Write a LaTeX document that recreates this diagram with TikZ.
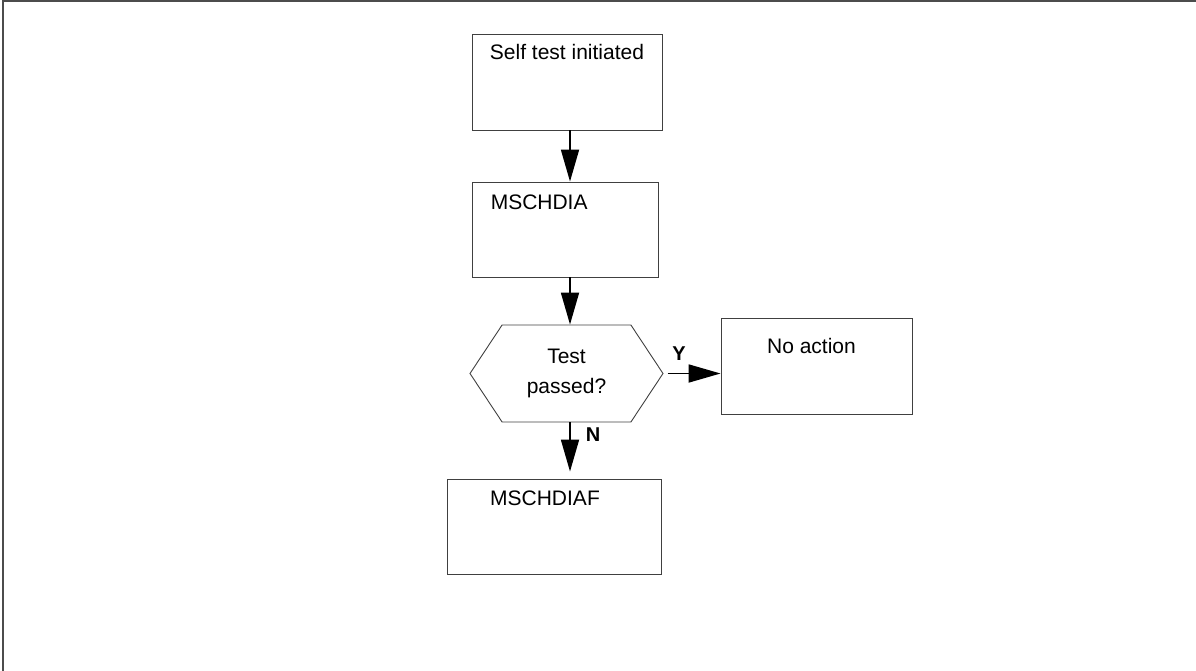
\documentclass[tikz,border=0pt]{standalone}
\usepackage{fontspec}
\setmainfont{Liberation Sans}
\usetikzlibrary{arrows.meta,shapes.symbols}

\begin{document}
\begin{tikzpicture}[x=1pt,y=-1pt,
    box/.style={draw=black!75,line width=0.9pt,rectangle,inner sep=0pt},
    txt/.style={inner sep=0pt,font=\fontsize{21}{30}\selectfont},
    yn/.style={inner sep=0pt,font=\fontsize{20}{22}\selectfont\bfseries},
    flow/.style={line width=1.8pt,-{Triangle[length=32pt,width=18pt]}}]
  \def\spine{570}
  \useasboundingbox (0,0) rectangle (1196,671);

  %%% frame
  \draw[black!70,line width=2pt] (3,671) -- (3,1.5) -- (1196,1.5);

  %%% steps
  \node[box,minimum width=190pt,minimum height=96pt,
    label={[txt,anchor=center,yshift=-18pt]north:Self test initiated}]
    (init) at (567,82) {};
  \node[box,minimum width=186pt,minimum height=95pt,
    label={[txt,anchor=west,xshift=19pt,yshift=-21pt]north west:MSCHDIA}]
    (dia) at (565,229.5) {};
  \node[draw=black!75,line width=0.9pt,signal,signal to=east and west,
    signal pointer angle=113,minimum width=193pt,minimum height=97pt,
    inner sep=0pt,txt,align=center]
    (test) at (566.5,373.5) {Test\\passed?};
  \node[box,minimum width=191pt,minimum height=96pt,
    label={[txt,anchor=center,xshift=-5pt,yshift=-28pt]north:No action}]
    (noact) at (816.5,366) {};
  \node[box,minimum width=214pt,minimum height=95pt,
    label={[txt,anchor=center,xshift=-9pt,yshift=-20pt]north:MSCHDIAF}]
    (diaf) at (554,526.5) {};

  \coordinate (axis) at (\spine,0);

  %%% arrows
  \draw[flow] (init.south -| axis) -- (dia.north -| axis);
  \draw[flow] (dia.south -| axis) -- (test.north -| axis);
  \draw[flow,shorten <=4pt] (test.east) -- (noact.west |- test.east);
  \draw[flow,shorten >=7pt] (test.south -| axis) -- (diaf.north -| axis);

  \node[yn] (yes) at (679,354) {Y};
  \node[yn] (no) at (593,435) {N};
\end{tikzpicture}
\end{document}
